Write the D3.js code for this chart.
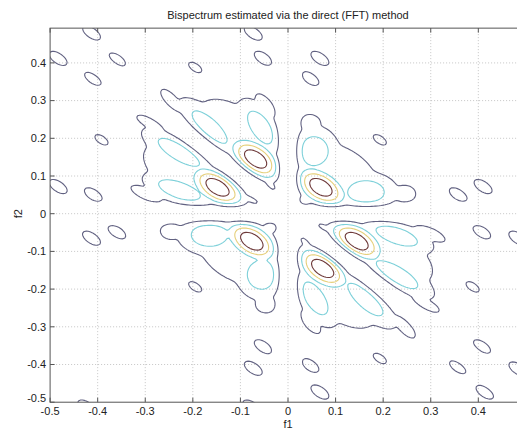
<!DOCTYPE html>
<html><head><meta charset="utf-8">
<script src="https://cdn.jsdelivr.net/npm/d3@7"></script>
<style>body{margin:0;background:#fff} text{font-family:"Liberation Sans",Arial,sans-serif}</style>
</head><body>
<svg id="c" width="517" height="428"></svg>
<script>
// ---------- chart data ----------
const chartTitle = "Bispectrum estimated via the direct (FFT) method";
const xLabel = "f1";
const yLabel = "f2";
const axisDomain = [-0.5, 0.4922];
const xTicks = [-0.5, -0.4, -0.3, -0.2, -0.1, 0, 0.1, 0.2, 0.3, 0.4];
const xTickLabels = ["-0.5", "-0.4", "-0.3", "-0.2", "-0.1", "0", "0.1", "0.2", "0.3", "0.4"];
const yTicks = [-0.5, -0.4, -0.3, -0.2, -0.1, 0, 0.1, 0.2, 0.3, 0.4];
const yTickLabels = ["-0.5", "-0.4", "-0.3", "-0.2", "-0.1", "0", "0.1", "0.2", "0.3", "0.4"];
const contourLevels = [0.2, 0.4, 0.6, 0.8];
const levelColors = ["#626282", "#7dd0d9", "#e6d07c", "#6e3a3a"];
// the estimate vanishes along f1 = 0, f2 = 0 and f1 + f2 = 0 (width of that notch)
const zeroLineWidth = 0.02;

// spectral components: centre (f1,f2), height, spread (variances x1e-4)
const blobF1  = [0.069, 0.054, 0.164, 0.045, 0.245, 0.12, 0.035,
                 -0.076, -0.055, -0.165, -0.045, -0.245, -0.12, -0.035,
                 -0.148, -0.228, -0.228, -0.285, -0.297, -0.24, -0.07,
                 -0.068, -0.057, -0.165, -0.045, -0.245, -0.12, -0.035,
                 0.144, 0.228, 0.228, 0.285, 0.297, 0.24, 0.07,
                 0.073, 0.056, 0.163, 0.045, 0.245, 0.12, 0.035];
const blobF2  = [0.070, 0.166, 0.057, 0.240, 0.052, 0.12, 0.035,
                 -0.073, -0.162, -0.056, -0.240, -0.045, -0.12, -0.035,
                 0.070, 0.163, 0.062, 0.240, 0.052, 0.12, 0.035,
                 0.145, 0.228, 0.228, 0.285, 0.297, 0.24, 0.07,
                 -0.073, -0.162, -0.058, -0.240, -0.052, -0.12, -0.035,
                 -0.145, -0.224, -0.226, -0.285, -0.297, -0.24, -0.07];
const blobAmp = [1.0, 0.55, 0.55, 0.3, 0.3, 0.3, 0.3,
                 1.0, 0.55, 0.55, 0.3, 0.3, 0.3, 0.3,
                 1.0, 0.55, 0.55, 0.3, 0.3, 0.3, 0.3,
                 1.0, 0.55, 0.55, 0.3, 0.3, 0.3, 0.3,
                 1.0, 0.55, 0.55, 0.3, 0.3, 0.3, 0.3,
                 1.0, 0.55, 0.55, 0.3, 0.3, 0.3, 0.3];
const blobVar1 = [12.6, 14.44, 23, 6.76, 6.76, 53, 4,
                  12.6, 14.44, 23, 6.76, 6.76, 53, 4,
                  13.46, 31.5, 30.3, 13.52, 13.52, 50, 8,
                  12.6, 12.2, 21.7, 6.76, 6.76, 53, 4,
                  13.46, 31.5, 30.3, 13.52, 13.52, 50, 8,
                  12.6, 12.2, 21.7, 6.76, 6.76, 53, 4];
const blobCov  = [-5.87, 0, 0, 0, 0, -28, 0,
                  -5.87, 0, 0, 0, 0, -28, 0,
                  -6.73, -19.8, -11.6, -6.76, -6.76, -25, -4,
                  -6.73, -11.6, -19.8, -6.76, -6.76, -25, -4,
                  -6.73, -19.8, -11.6, -6.76, -6.76, -25, -4,
                  -6.73, -11.6, -19.8, -6.76, -6.76, -25, -4];
const blobVar2 = [12.6, 23, 14.44, 6.76, 6.76, 53, 4,
                  12.6, 23, 14.44, 6.76, 6.76, 53, 4,
                  12.6, 21.7, 12.2, 6.76, 6.76, 53, 4,
                  13.46, 30.3, 31.5, 13.52, 13.52, 50, 8,
                  12.6, 21.7, 12.2, 6.76, 6.76, 53, 4,
                  13.46, 30.3, 31.5, 13.52, 13.52, 50, 8];

// small isolated lobes near the edges
const islandF1  = [-0.413, -0.483, -0.360, -0.409, -0.195, -0.073, -0.052, 0.067, 0.046,
                   -0.392, -0.483, -0.409, -0.413, -0.360, -0.530,
                   0.193, -0.195,
                   0.358, 0.410, 0.407, 0.483, 0.388,
                   -0.052, 0.193, -0.073, 0.046, 0.067, 0.407, 0.358, 0.483, 0.414, -0.423, -0.076];
const islandF2  = [0.479, 0.412, 0.408, 0.359, 0.388, 0.479, 0.412, 0.412, 0.359,
                   0.196, 0.072, 0.050, -0.065, -0.048, -0.070,
                   0.196, -0.194,
                   0.050, 0.072, -0.048, -0.065, -0.194,
                   -0.353, -0.384, -0.410, -0.402, -0.473, -0.353, -0.406, -0.412, -0.473, -0.513, -0.513];
const islandAmp = [0.28, 0.28, 0.28, 0.28, 0.24, 0.28, 0.28, 0.28, 0.28,
                   0.24, 0.28, 0.28, 0.28, 0.28, 0.28,
                   0.24, 0.24,
                   0.28, 0.28, 0.28, 0.28, 0.24,
                   0.28, 0.24, 0.28, 0.28, 0.28, 0.28, 0.28, 0.28, 0.28, 0.28, 0.28];
const islandVar = [5.33, -3.08, 5.33];

// ---------- layout ----------
const svg = d3.select("#c");
const W = 517, H = 428;
const x = d3.scaleLinear().domain([-0.5, 0.5]).range([50.1, 525.9]);
const y = d3.scaleLinear().domain([-0.5, 0.5]).range([402.2, 25.2]);
const pL = x(axisDomain[0]), pR = x(axisDomain[1]);
const pT = y(axisDomain[1]), pB = y(axisDomain[0]);

svg.append("rect").attr("width", W).attr("height", H).attr("fill", "#fff");

// ---------- field ----------
const comps = [];
blobF1.forEach((v, i) => comps.push({cx: v, cy: blobF2[i], a: blobAmp[i], sxx: blobVar1[i], sxy: blobCov[i], syy: blobVar2[i]}));
islandF1.forEach((v, i) => comps.push({cx: v, cy: islandF2[i], a: islandAmp[i], sxx: islandVar[0], sxy: islandVar[1], syy: islandVar[2]}));
comps.forEach(c => {
  const det = (c.sxx * c.syy - c.sxy * c.sxy) * 1e-8;
  c.ixx = c.syy * 1e-4 / det; c.iyy = c.sxx * 1e-4 / det; c.ixy = -c.sxy * 1e-4 / det;
});
const notch = d => 1 - Math.exp(-(d / zeroLineWidth) * (d / zeroLineWidth));
const g0 = -0.56, step = 0.004, n = 281;
const values = new Float64Array(n * n);
for (let j = 0; j < n; j++) {
  const fy = g0 + j * step;
  for (let i = 0; i < n; i++) {
    const fx = g0 + i * step;
    let s = 0;
    for (const c of comps) {
      const dx = fx - c.cx, dy = fy - c.cy;
      const q = c.ixx * dx * dx + 2 * c.ixy * dx * dy + c.iyy * dy * dy;
      if (q < 40) { const g = c.a * Math.exp(-0.5 * q); const g2 = g * g, g4 = g2 * g2; s += g4 * g4; }
    }
    values[j * n + i] = Math.pow(s, 1 / 8) * notch(fx) * notch(fy) * notch((fx + fy) / Math.SQRT2);
  }
}
const contours = d3.contours().size([n, n]).thresholds(contourLevels)(values);
const proj = d3.geoTransform({point: function(px, py) {
  this.stream.point(x(g0 + (px - 0.5) * step), y(g0 + (py - 0.5) * step));
}});
const path = d3.geoPath(proj);

svg.append("clipPath").attr("id", "plotclip").append("rect")
  .attr("x", pL).attr("y", pT).attr("width", pR - pL).attr("height", pB - pT);

// grid
const grid = svg.append("g").attr("stroke", "#b8b8b8").attr("stroke-width", 0.8).attr("stroke-dasharray", "1,2");
xTicks.forEach(t => { if (t > axisDomain[0]) grid.append("line").attr("x1", x(t)).attr("x2", x(t)).attr("y1", pT).attr("y2", pB); });
yTicks.forEach(t => { if (t > axisDomain[0]) grid.append("line").attr("x1", pL).attr("x2", pR).attr("y1", y(t)).attr("y2", y(t)); });

// contours
svg.append("g").attr("clip-path", "url(#plotclip)")
  .selectAll("path").data(contours).join("path")
  .attr("d", path).attr("fill", "none")
  .attr("stroke", (d, i) => levelColors[i]).attr("stroke-width", 1.1);

// frame + ticks
const fr = svg.append("g").attr("stroke", "#555").attr("stroke-width", 1).attr("fill", "none");
fr.append("rect").attr("x", pL).attr("y", pT).attr("width", pR - pL).attr("height", pB - pT);
const tl = 4.5;
xTicks.forEach(t => {
  fr.append("line").attr("x1", x(t)).attr("x2", x(t)).attr("y1", pB).attr("y2", pB - tl);
  fr.append("line").attr("x1", x(t)).attr("x2", x(t)).attr("y1", pT).attr("y2", pT + tl);
});
yTicks.forEach(t => {
  fr.append("line").attr("x1", pL).attr("x2", pL + tl).attr("y1", y(t)).attr("y2", y(t));
  fr.append("line").attr("x1", pR).attr("x2", pR - tl).attr("y1", y(t)).attr("y2", y(t));
});

// labels
const lab = svg.append("g").attr("fill", "#222").attr("font-size", 11);
xTicks.forEach((t, i) => lab.append("text").attr("x", x(t)).attr("y", pB + 12.3).attr("text-anchor", "middle").text(xTickLabels[i]));
yTicks.forEach((t, i) => lab.append("text").attr("x", pL - 4)
  .attr("y", y(t) + (t === axisDomain[0] ? -0.5 : 3.8)).attr("text-anchor", "end").text(yTickLabels[i]));
lab.append("text").attr("x", x(0)).attr("y", 427.5).attr("text-anchor", "middle").text(xLabel);
lab.append("text").attr("transform", `translate(22,${y(0)}) rotate(-90)`).attr("text-anchor", "middle").text(yLabel);
lab.append("text").attr("x", x(0)).attr("y", 19).attr("text-anchor", "middle").text(chartTitle);
</script>
</body></html>
